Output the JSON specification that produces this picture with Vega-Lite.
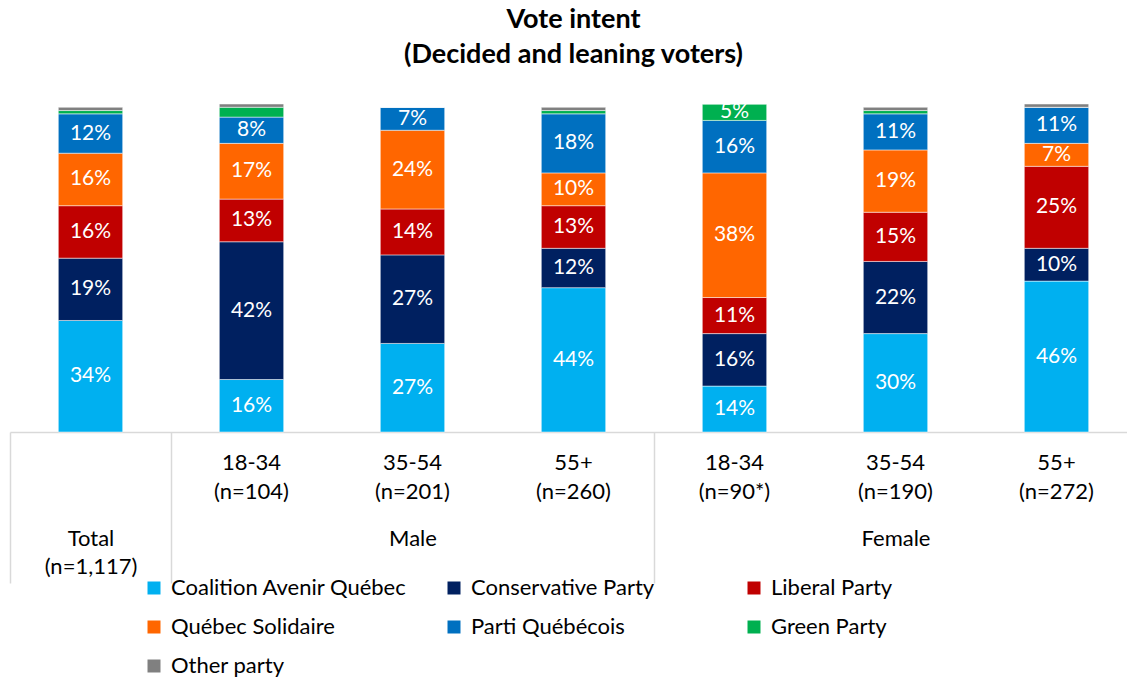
{
  "$schema": "https://vega.github.io/schema/vega-lite/v6.json",
  "autosize": "none",
  "width": 1117,
  "height": 328,
  "padding": {"left": 10, "top": 104, "right": 0, "bottom": 247},
  "background": "white",
  "config": {"font": "Lato", "view": {"stroke": null}},
  "title": {
    "text": ["Vote intent", "(Decided and leaning voters)"],
    "font": "Lato",
    "fontSize": 27,
    "fontWeight": "bold",
    "color": "black",
    "lineHeight": 35,
    "anchor": "middle",
    "dx": 5,
    "offset": 32
  },
  "data": {
    "values": [
      {"column": "Total (n=1,117)", "party": "Coalition Avenir Québec", "pct": 0.34},
      {"column": "Total (n=1,117)", "party": "Conservative Party", "pct": 0.19},
      {"column": "Total (n=1,117)", "party": "Liberal Party", "pct": 0.16},
      {"column": "Total (n=1,117)", "party": "Québec Solidaire", "pct": 0.16},
      {"column": "Total (n=1,117)", "party": "Parti Québécois", "pct": 0.12},
      {"column": "Total (n=1,117)", "party": "Green Party", "pct": 0.01},
      {"column": "Total (n=1,117)", "party": "Other party", "pct": 0.01},
      {"column": "Male 18-34 (n=104)", "party": "Coalition Avenir Québec", "pct": 0.16},
      {"column": "Male 18-34 (n=104)", "party": "Conservative Party", "pct": 0.42},
      {"column": "Male 18-34 (n=104)", "party": "Liberal Party", "pct": 0.13},
      {"column": "Male 18-34 (n=104)", "party": "Québec Solidaire", "pct": 0.17},
      {"column": "Male 18-34 (n=104)", "party": "Parti Québécois", "pct": 0.08},
      {"column": "Male 18-34 (n=104)", "party": "Green Party", "pct": 0.03},
      {"column": "Male 18-34 (n=104)", "party": "Other party", "pct": 0.01},
      {"column": "Male 35-54 (n=201)", "party": "Coalition Avenir Québec", "pct": 0.27},
      {"column": "Male 35-54 (n=201)", "party": "Conservative Party", "pct": 0.27},
      {"column": "Male 35-54 (n=201)", "party": "Liberal Party", "pct": 0.14},
      {"column": "Male 35-54 (n=201)", "party": "Québec Solidaire", "pct": 0.24},
      {"column": "Male 35-54 (n=201)", "party": "Parti Québécois", "pct": 0.07},
      {"column": "Male 35-54 (n=201)", "party": "Green Party", "pct": 0.0},
      {"column": "Male 35-54 (n=201)", "party": "Other party", "pct": 0.0},
      {"column": "Male 55+ (n=260)", "party": "Coalition Avenir Québec", "pct": 0.44},
      {"column": "Male 55+ (n=260)", "party": "Conservative Party", "pct": 0.12},
      {"column": "Male 55+ (n=260)", "party": "Liberal Party", "pct": 0.13},
      {"column": "Male 55+ (n=260)", "party": "Québec Solidaire", "pct": 0.10},
      {"column": "Male 55+ (n=260)", "party": "Parti Québécois", "pct": 0.18},
      {"column": "Male 55+ (n=260)", "party": "Green Party", "pct": 0.01},
      {"column": "Male 55+ (n=260)", "party": "Other party", "pct": 0.01},
      {"column": "Female 18-34 (n=90*)", "party": "Coalition Avenir Québec", "pct": 0.14},
      {"column": "Female 18-34 (n=90*)", "party": "Conservative Party", "pct": 0.16},
      {"column": "Female 18-34 (n=90*)", "party": "Liberal Party", "pct": 0.11},
      {"column": "Female 18-34 (n=90*)", "party": "Québec Solidaire", "pct": 0.38},
      {"column": "Female 18-34 (n=90*)", "party": "Parti Québécois", "pct": 0.16},
      {"column": "Female 18-34 (n=90*)", "party": "Green Party", "pct": 0.05},
      {"column": "Female 18-34 (n=90*)", "party": "Other party", "pct": 0.0},
      {"column": "Female 35-54 (n=190)", "party": "Coalition Avenir Québec", "pct": 0.30},
      {"column": "Female 35-54 (n=190)", "party": "Conservative Party", "pct": 0.22},
      {"column": "Female 35-54 (n=190)", "party": "Liberal Party", "pct": 0.15},
      {"column": "Female 35-54 (n=190)", "party": "Québec Solidaire", "pct": 0.19},
      {"column": "Female 35-54 (n=190)", "party": "Parti Québécois", "pct": 0.11},
      {"column": "Female 35-54 (n=190)", "party": "Green Party", "pct": 0.01},
      {"column": "Female 35-54 (n=190)", "party": "Other party", "pct": 0.01},
      {"column": "Female 55+ (n=272)", "party": "Coalition Avenir Québec", "pct": 0.46},
      {"column": "Female 55+ (n=272)", "party": "Conservative Party", "pct": 0.10},
      {"column": "Female 55+ (n=272)", "party": "Liberal Party", "pct": 0.25},
      {"column": "Female 55+ (n=272)", "party": "Québec Solidaire", "pct": 0.07},
      {"column": "Female 55+ (n=272)", "party": "Parti Québécois", "pct": 0.11},
      {"column": "Female 55+ (n=272)", "party": "Green Party", "pct": 0.0},
      {"column": "Female 55+ (n=272)", "party": "Other party", "pct": 0.01}
    ]
  },
  "transform": [
    {"calculate": "indexof(['Coalition Avenir Québec', 'Conservative Party', 'Liberal Party', 'Québec Solidaire', 'Parti Québécois', 'Green Party', 'Other party'], datum.party)", "as": "stack_order"}
  ],
  "layer": [
    {
      "mark": {"type": "bar", "width": {"band": 0.4}, "stroke": "white", "strokeWidth": 0.5},
      "encoding": {
        "x": {
          "field": "column",
          "type": "nominal",
          "sort": null,
          "scale": {"range": [0, 1127], "paddingInner": 0, "paddingOuter": 0},
          "axis": {
            "title": null,
            "orient": "bottom",
            "domainColor": "#d9d9d9",
            "domainWidth": 1.5,
            "ticks": false,
            "labelAngle": 0,
            "labelFont": "Lato",
            "labelFontSize": 22,
            "labelColor": "black",
            "labelLimit": 0,
            "labelPadding": 20,
            "labelLineHeight": 29,
            "labelExpr": "test(/^Total/, datum.value) ? '' : split(replace(datum.value, /^(Male|Female) /, ''), ' ')"
          }
        },
        "y": {"field": "pct", "type": "quantitative", "stack": "zero", "scale": {"domain": [0, 1]}, "axis": null},
        "order": {"field": "stack_order", "type": "quantitative"},
        "color": {
          "field": "party",
          "type": "nominal",
          "sort": ["Coalition Avenir Québec", "Conservative Party", "Liberal Party", "Québec Solidaire", "Parti Québécois", "Green Party", "Other party"],
          "scale": {
            "domain": ["Coalition Avenir Québec", "Conservative Party", "Liberal Party", "Québec Solidaire", "Parti Québécois", "Green Party", "Other party"],
            "range": ["#00B0F0", "#002060", "#C00000", "#FF6600", "#0070C0", "#00B050", "#808080"]
          },
          "legend": {
            "title": null,
            "orient": "none",
            "legendX": 133,
            "legendY": 473,
            "columns": 3,
            "direction": "horizontal",
            "gridAlign": "all",
            "columnPadding": 36,
            "rowPadding": 17,
            "symbolType": "square",
            "symbolSize": 169,
            "symbolStrokeWidth": 0,
            "labelFont": "Lato",
            "labelFontSize": 22,
            "labelColor": "black",
            "labelLimit": 0,
            "labelOffset": 6
          }
        }
      }
    },
    {
      "transform": [{"filter": "datum.pct >= 0.045"}],
      "mark": {"type": "text", "fontSize": 21, "font": "Lato"},
      "encoding": {
        "x": {
          "field": "column",
          "type": "nominal",
          "sort": null,
          "axis": {
            "title": null,
            "orient": "bottom",
            "domain": false,
            "tickBand": "extent",
            "tickSize": 151,
            "tickWidth": 1.5,
            "tickColor": {
              "condition": {"test": "datum.extra || indexof(['Total (n=1,117)', 'Male 55+ (n=260)'], datum.value) >= 0", "value": "#d9d9d9"},
              "value": "rgba(0,0,0,0)"
            },
            "labelAngle": 0,
            "labelFont": "Lato",
            "labelFontSize": 22,
            "labelColor": "black",
            "labelLimit": 0,
            "labelPadding": -55,
            "labelLineHeight": 28,
            "labelExpr": "datum.value == 'Total (n=1,117)' ? ['Total', '(n=1,117)'] : datum.value == 'Male 35-54 (n=201)' ? 'Male' : datum.value == 'Female 35-54 (n=190)' ? 'Female' : ''"
          }
        },
        "y": {"field": "pct", "type": "quantitative", "stack": "zero", "bandPosition": 0.5},
        "order": {"field": "stack_order", "type": "quantitative"},
        "color": {
          "field": "party",
          "type": "nominal",
          "scale": {"range": ["white"]},
          "legend": null
        },
        "text": {"field": "pct", "type": "quantitative", "format": ".0%"}
      }
    }
  ],
  "resolve": {"axis": {"x": "independent"}, "scale": {"color": "independent"}}
}
